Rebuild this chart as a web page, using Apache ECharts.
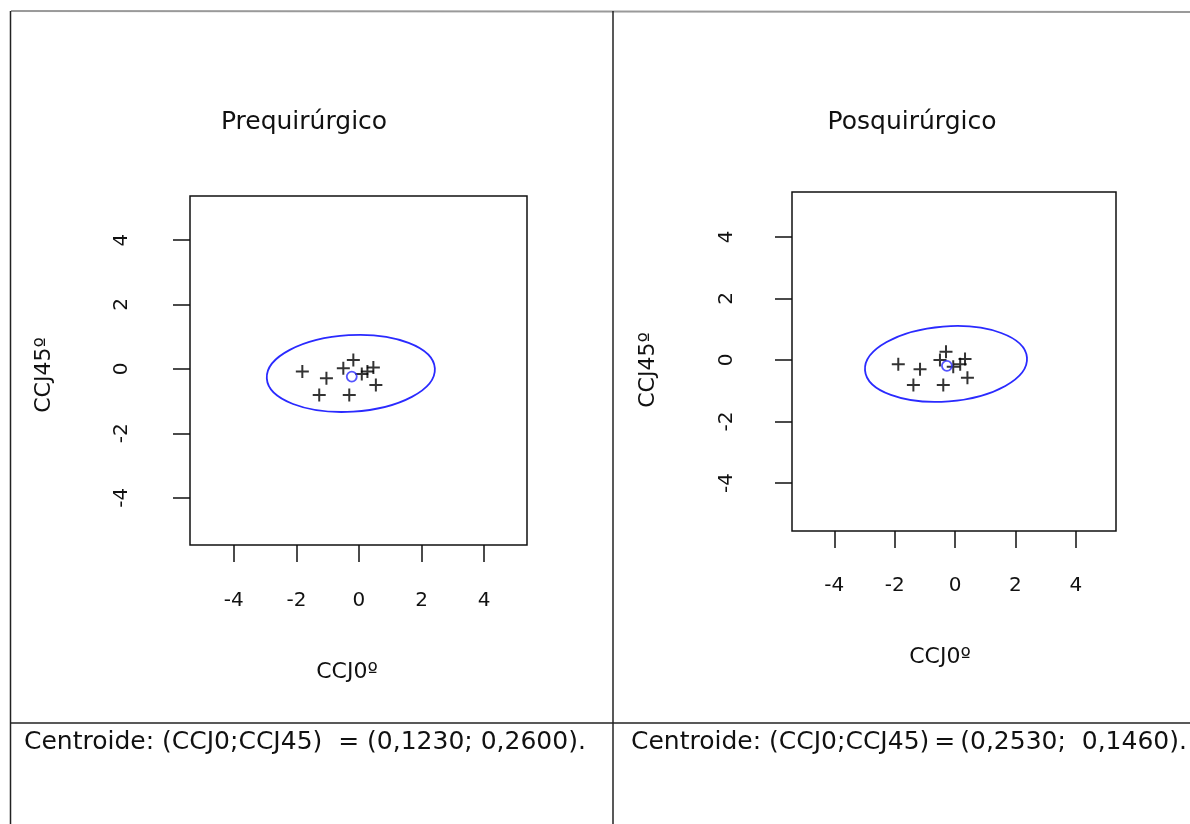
<!DOCTYPE html>
<html>
<head>
<meta charset="utf-8">
<script src="https://cdn.jsdelivr.net/npm/echarts/dist/echarts.min.js"></script>
<style>
html,body{margin:0;padding:0;background:#fff;}
#chart{width:1190px;height:824px;}
</style>
</head>
<body>
<div id="chart"></div>
<script>
// ---- data ----
const panelTitles = ['Prequirúrgico', 'Posquirúrgico'];
const xAxisName = 'CCJ0º';
const yAxisName = 'CCJ45º';
const tickValues = [-4, -2, 0, 2, 4];

const preX = [-1.81, -1.04, -1.27, -0.31, -0.18, -0.50, 0.46, 0.27, 0.54, 0.09];
const preY = [-0.08, -0.29, -0.81, -0.81, 0.28, 0.02, 0.04, -0.08, -0.50, -0.16];
const postX = [-1.88, -1.16, -1.38, -0.39, -0.30, -0.50, 0.33, 0.17, 0.41, -0.06];
const postY = [-0.14, -0.30, -0.81, -0.81, 0.27, 0.00, 0.03, -0.14, -0.58, -0.22];

const preCenter = [-0.23, -0.24];
const postCenter = [-0.27, -0.19];

// ellipse: centre x, centre y, semi-axis x, semi-axis y, tilt (deg)
const preEllipse = [-0.26, -0.14, 2.69, 1.19, 3.4];
const postEllipse = [-0.30, -0.13, 2.69, 1.22, 4.5];

const footerTexts = [
  'Centroide: (CCJ0;CCJ45)  = (0,1230; 0,2600).',
  'Centroide: (CCJ0;CCJ45)\u2009=\u2009(0,2530;  0,1460).'
];

// ---- chart ----
const FONT = 'DejaVu Sans';
const chart = echarts.init(document.getElementById('chart'), null, {renderer: 'canvas'});

const grids = [
  {left: 190, top: 196, width: 337, height: 349},
  {left: 792, top: 192, width: 324, height: 339}
];
const xRanges = [[-5.4, 5.37], [-5.4, 5.33]];
const yRanges = [[-5.47, 5.37], [-5.56, 5.46]];
const xLabelMargin = [46, 45];
const yLabelMargin = [58, 55];

function zip(xs, ys) { return xs.map((x, i) => [x, ys[i]]); }

function ellipseRender(params, api) {
  const c = api.coord([api.value(0), api.value(1)]);
  const s = api.size([api.value(2), api.value(3)]);
  return {
    type: 'ellipse',
    x: c[0], y: c[1],
    rotation: api.value(4) * Math.PI / 180,
    shape: {cx: 0, cy: 0, rx: s[0], ry: s[1]},
    style: {fill: 'none', stroke: '#2a2aff', lineWidth: 1.8},
    silent: true
  };
}

const plusSymbol = 'path://M0,6L12,6M6,0L6,12';
const txt = {fontFamily: FONT, fill: '#111'};

const option = {
  backgroundColor: '#fff',
  animation: false,
  grid: grids.map(g => Object.assign({
    show: true, borderColor: '#111', borderWidth: 1.5,
    backgroundColor: 'transparent', containLabel: false, outerBoundsMode: 'none'
  }, g)),
  xAxis: [0, 1].map(i => ({
    type: 'value', gridIndex: i, min: xRanges[i][0], max: xRanges[i][1],
    position: 'bottom',
    axisLine: {show: false, onZero: false},
    splitLine: {show: false},
    axisTick: {show: true, inside: false, length: 17, customValues: tickValues,
      lineStyle: {color: '#111', width: 1.5}},
    axisLabel: {customValues: tickValues, margin: xLabelMargin[i],
      fontFamily: FONT, fontSize: 20, color: '#111'}
  })),
  yAxis: [0, 1].map(i => ({
    type: 'value', gridIndex: i, min: yRanges[i][0], max: yRanges[i][1],
    position: 'left',
    axisLine: {show: false, onZero: false},
    splitLine: {show: false},
    axisTick: {show: true, inside: false, length: 17, customValues: tickValues,
      lineStyle: {color: '#111', width: 1.5}},
    axisLabel: {customValues: tickValues, margin: yLabelMargin[i], rotate: 90,
      fontFamily: FONT, fontSize: 20, color: '#111'}
  })),
  series: [
    {type: 'custom', xAxisIndex: 0, yAxisIndex: 0, renderItem: ellipseRender, data: [preEllipse], silent: true},
    {type: 'custom', xAxisIndex: 1, yAxisIndex: 1, renderItem: ellipseRender, data: [postEllipse], silent: true},
    {type: 'scatter', xAxisIndex: 0, yAxisIndex: 0, data: zip(preX, preY),
      symbol: plusSymbol, symbolSize: 13,
      itemStyle: {color: 'transparent', borderColor: '#000', borderWidth: 2}},
    {type: 'scatter', xAxisIndex: 1, yAxisIndex: 1, data: zip(postX, postY),
      symbol: plusSymbol, symbolSize: 13,
      itemStyle: {color: 'transparent', borderColor: '#000', borderWidth: 2}},
    {type: 'scatter', xAxisIndex: 0, yAxisIndex: 0, data: [preCenter],
      symbol: 'circle', symbolSize: 10,
      itemStyle: {color: 'transparent', borderColor: '#2a2aff', borderWidth: 1.8}},
    {type: 'scatter', xAxisIndex: 1, yAxisIndex: 1, data: [postCenter],
      symbol: 'circle', symbolSize: 10,
      itemStyle: {color: 'transparent', borderColor: '#2a2aff', borderWidth: 1.8}}
  ],
  graphic: [
    {type: 'line', shape: {x1: 11, y1: 11, x2: 1190, y2: 12}, style: {stroke: '#9a9a9a', lineWidth: 2}},
    {type: 'line', shape: {x1: 10.5, y1: 11, x2: 10.5, y2: 824}, style: {stroke: '#222', lineWidth: 1.5}},
    {type: 'line', shape: {x1: 613, y1: 11, x2: 613, y2: 824}, style: {stroke: '#222', lineWidth: 1.5}},
    {type: 'line', shape: {x1: 10, y1: 723, x2: 1190, y2: 723}, style: {stroke: '#222', lineWidth: 1.5}},
    // panel titles
    {type: 'text', x: 304, y: 122, style: Object.assign({text: panelTitles[0], fontSize: 25, align: 'center', verticalAlign: 'middle'}, txt)},
    {type: 'text', x: 912, y: 122, style: Object.assign({text: panelTitles[1], fontSize: 25, align: 'center', verticalAlign: 'middle'}, txt)},
    // axis names
    {type: 'text', x: 347, y: 672, style: Object.assign({text: xAxisName, fontSize: 22, align: 'center', verticalAlign: 'middle'}, txt)},
    {type: 'text', x: 940, y: 657, style: Object.assign({text: xAxisName, fontSize: 22, align: 'center', verticalAlign: 'middle'}, txt)},
    {type: 'text', x: 44, y: 375, rotation: Math.PI / 2, style: Object.assign({text: yAxisName, fontSize: 22, align: 'center', verticalAlign: 'middle'}, txt)},
    {type: 'text', x: 648, y: 370, rotation: Math.PI / 2, style: Object.assign({text: yAxisName, fontSize: 22, align: 'center', verticalAlign: 'middle'}, txt)},
    // footer
    {type: 'text', x: 24, y: 742, style: Object.assign({text: footerTexts[0], fontSize: 25, align: 'left', verticalAlign: 'middle'}, txt)},
    {type: 'text', x: 631, y: 742, style: Object.assign({text: footerTexts[1], fontSize: 25, align: 'left', verticalAlign: 'middle'}, txt)}
  ]
};
chart.setOption(option);
</script>
</body>
</html>
